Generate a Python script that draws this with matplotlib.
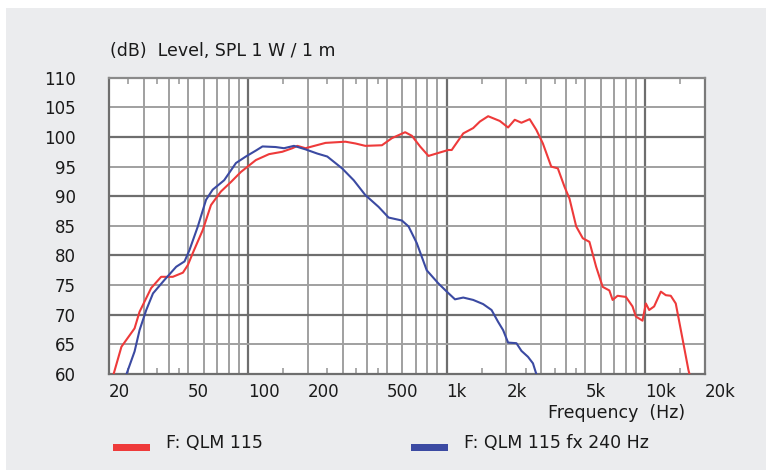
import matplotlib
matplotlib.use("Agg")
import matplotlib.pyplot as plt
from matplotlib.patches import Rectangle
from matplotlib.ticker import FixedLocator, NullFormatter

# ---- data ----
red_freq = [21.1, 23.1, 26.9, 28.5, 32.6, 36.6, 41.9, 47.1, 49.9, 52.8, 59.3, 65.2, 73.2, 82.2, 92.3,
            109.7, 127.8, 149, 167.5, 177.5, 195, 246, 310, 348, 390, 473, 531, 619, 669, 736, 811,
            909, 1021, 1062, 1103, 1214, 1362, 1472, 1620, 1854, 2041, 2205, 2383, 2621, 2831, 3055,
            3365, 3633, 3925, 4158, 4495, 4853, 5240, 5662, 6112, 6600, 6856, 7262, 8000, 8635, 8976,
            9694, 10080, 10472, 11090, 11990, 12700, 13450, 14250, 15400, 16500, 16700]
red_db = [60.0, 64.6, 67.7, 70.5, 74.5, 76.4, 76.4, 77.1, 78.4, 80.4, 84.3, 88.5, 90.8, 92.4, 94.1,
          96.1, 97.1, 97.5, 98.1, 98.5, 98.1, 99.0, 99.2, 98.9, 98.5, 98.6, 99.8, 100.8, 100.2, 98.4, 96.8,
          97.3, 97.8, 97.8, 98.6, 100.6, 101.5, 102.6, 103.5, 102.7, 101.6, 102.9, 102.4, 103.0, 101.2, 98.9,
          95.0, 94.7, 91.6, 89.6, 84.9, 82.9, 82.3, 78.1, 74.7, 74.1, 72.5, 73.2, 73.0, 71.4, 69.7,
          69.0, 71.9, 70.8, 71.4, 73.9, 73.3, 73.2, 71.9, 66.0, 60.7, 60.0]

blue_freq = [24.5, 26.9, 28.5, 30.8, 33.3, 38.1, 43.6, 48.0, 50.8, 56.0, 61.6, 66.5, 76.0, 87.1, 97.7,
             109.7, 118.5, 138, 152, 170.6, 195.3, 223.5, 251, 298, 341, 390, 455, 511, 596, 644, 708,
             795, 909, 1003, 1103, 1214, 1362, 1528, 1685, 1818, 1927, 2041, 2248, 2383, 2570, 2723, 2831]
blue_db = [60.0, 63.8, 67.4, 70.8, 73.6, 75.9, 78.1, 79.0, 80.9, 84.9, 89.4, 91.1, 92.7, 95.6, 96.7,
           97.7, 98.4, 98.3, 98.1, 98.5, 97.9, 97.2, 96.7, 94.7, 92.7, 90.2, 88.2, 86.4, 85.9, 84.9, 82.1,
           77.5, 75.3, 73.9, 72.6, 72.9, 72.5, 71.8, 70.8, 68.8, 67.4, 65.3, 65.2, 63.9, 62.9, 61.8, 60.0]

x_tick_vals = [20, 50, 100, 200, 500, 1000, 2000, 5000, 10000, 20000]
x_tick_labels = ['20', '50', '100', '200', '500', '1k', '2k', '5k', '10k', '20k']
y_tick_vals = [60, 65, 70, 75, 80, 85, 90, 95, 100, 105, 110]
grid_light_x = [30, 40, 50, 60, 70, 80, 90, 200, 300, 400, 500, 600, 700, 800, 900,
                2000, 3000, 4000, 5000, 6000, 7000, 8000, 9000]
grid_dark_x = [100, 1000, 10000]
small_ticks_x = [25, 35, 45, 150, 250, 350, 450, 1500, 2500, 3500, 4500, 15000]

series_names = ['F: QLM 115', 'F: QLM 115 fx 240 Hz']
RED = '#ee3a3a'
BLUE = '#3b4aa2'
BG = '#ebecee'
TXT = '#1a1a1a'

plt.rcParams['font.family'] = ['DejaVu Sans']

W, H = 766, 471
fig = plt.figure(figsize=(W / 100, H / 100), dpi=100)
fig.patch.set_facecolor('white')
fig.add_artist(Rectangle((6 / W, 1 / H), 1 - 6 / W, (470 - 8) / H, transform=fig.transFigure,
                         facecolor=BG, edgecolor='none', zorder=0))

L, R, T, B = 109, 705, 77.7, 374
ax = fig.add_axes([L / W, (H - B) / H, (R - L) / W, (B - T) / H])
ax.set_facecolor('white')
ax.set_xscale('log')
ax.set_xlim(20, 20000)
ax.set_ylim(60, 110)

for f in grid_light_x:
    ax.axvline(f, color='#a0a0a0', lw=1.4, zorder=1)
for f in grid_dark_x:
    ax.axvline(f, color='#6e6e6e', lw=1.6, zorder=1)
for v in y_tick_vals:
    if v in (60, 110):
        continue
    if v % 10 == 0:
        ax.axhline(v, color='#6e6e6e', lw=1.6, zorder=1)
    else:
        ax.axhline(v, color='#a0a0a0', lw=1.4, zorder=1)

ax.plot(red_freq, red_db, color=RED, lw=1.5, zorder=3, solid_joinstyle='round')
ax.plot(blue_freq, blue_db, color=BLUE, lw=1.5, zorder=3, solid_joinstyle='round')

ax.xaxis.set_major_locator(FixedLocator(x_tick_vals))
ax.set_xticklabels(x_tick_labels)
ax.xaxis.set_minor_locator(FixedLocator(small_ticks_x))
ax.xaxis.set_minor_formatter(NullFormatter())
for lbl in ax.get_xticklabels():
    lbl.set_horizontalalignment('left')
ax.tick_params(axis='x', which='major', length=0, pad=6.5, labelsize=12, labelcolor=TXT)
ax.tick_params(axis='x', which='minor', direction='in', top=True, bottom=True, length=4,
               width=1.2, color='#9c9c9c')
ax.set_yticks(y_tick_vals)
ax.tick_params(axis='y', which='both', length=0, pad=24, labelsize=12, labelcolor=TXT)

for s in ax.spines.values():
    s.set_color('#6e6e6e')
    s.set_linewidth(1.6)
ax.spines['right'].set_color('#7a7a7a')
ax.spines['top'].set_color('#8a8a8a')

fig.text(110 / W, 1 - 51.5 / H, '(dB)  Level, SPL 1 W / 1 m', ha='left', va='center',
         fontsize=12.5, color=TXT)
fig.text(548 / W, 1 - 413 / H, 'Frequency  (Hz)', ha='left', va='center', fontsize=12.5, color=TXT)

# legend
for x0, col, name in [(113, RED, series_names[0]), (411, BLUE, series_names[1])]:
    fig.add_artist(Rectangle((x0 / W, 1 - 451 / H), 37 / W, 7 / H, transform=fig.transFigure,
                             facecolor=col, edgecolor='none'))
    fig.text((x0 + 53) / W, 1 - 443 / H, name, ha='left', va='center', fontsize=12.5, color=TXT)

fig.savefig('out.png', dpi=100, facecolor=fig.get_facecolor())
